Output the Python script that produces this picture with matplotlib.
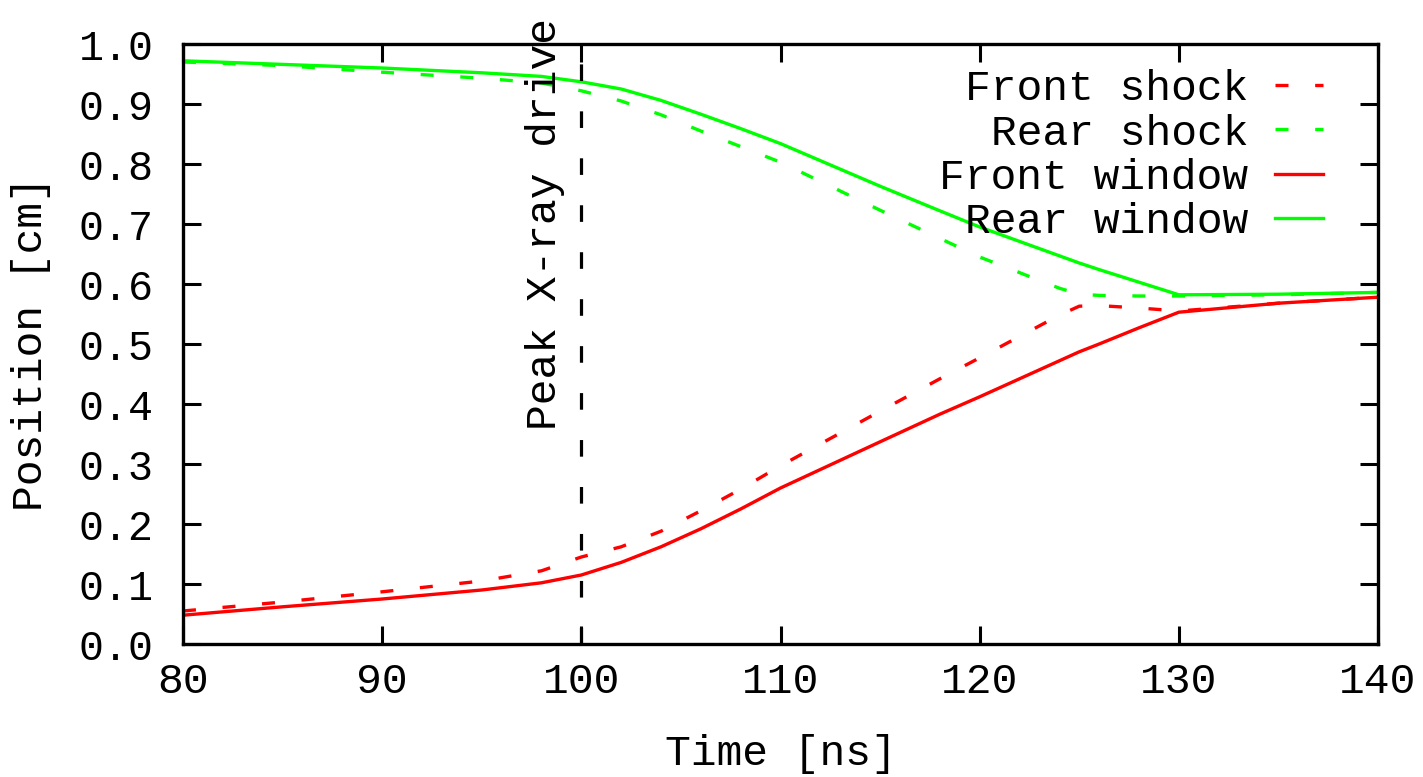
import matplotlib
matplotlib.use("Agg")
import matplotlib.pyplot as plt

# ---- data ----
time_ns = [80, 85, 90, 95, 98, 100, 102, 104, 106, 108, 110, 115, 118, 120, 124, 125, 126, 128, 130, 135, 140]
front_shock = [0.055, 0.070, 0.087, 0.105, 0.122, 0.145, 0.162, 0.188, 0.222, 0.258, 0.297, 0.388, 0.442, 0.477,
               0.548, 0.563, 0.564, 0.560, 0.555, 0.568, 0.578]
rear_shock = [0.970, 0.964, 0.953, 0.943, 0.935, 0.922, 0.905, 0.882, 0.855, 0.829, 0.803, 0.723, 0.676, 0.645,
              0.593, 0.583, 0.581, 0.580, 0.580, 0.582, 0.586]
front_window = [0.048, 0.062, 0.075, 0.090, 0.102, 0.115, 0.136, 0.162, 0.192, 0.225, 0.260, 0.337, 0.383, 0.412,
                0.472, 0.487, 0.500, 0.527, 0.553, 0.568, 0.578]
rear_window = [0.972, 0.966, 0.960, 0.952, 0.946, 0.937, 0.925, 0.906, 0.883, 0.859, 0.834, 0.763, 0.722, 0.695,
               0.647, 0.635, 0.624, 0.603, 0.582, 0.583, 0.586]
peak_time = 100
peak_label = "Peak X-ray drive"
x_ticks = [80, 90, 100, 110, 120, 130, 140]
y_ticks = [0.0, 0.1, 0.2, 0.3, 0.4, 0.5, 0.6, 0.7, 0.8, 0.9, 1.0]

RED = "#ff0000"
GREEN = "#00ff00"
FS = 31

plt.rcParams["font.family"] = ["Liberation Mono", "DejaVu Sans Mono"]
plt.rcParams["lines.scale_dashes"] = True

fig = plt.figure(figsize=(14.23, 7.77), dpi=100)
ax = fig.add_axes([183 / 1423, (777 - 644) / 777, 1195 / 1423, 600 / 777])

lw = 2.4
dash = (3.9, 8.0)
ax.plot(time_ns, front_shock, color=RED, lw=lw, dashes=dash, label="Front shock")
ax.plot(time_ns, rear_shock, color=GREEN, lw=lw, dashes=dash, label="Rear shock")
ax.plot(time_ns, front_window, color=RED, lw=lw, label="Front window")
ax.plot(time_ns, rear_window, color=GREEN, lw=lw, label="Rear window")

ax.plot([peak_time, peak_time], [0, 1], color="black", lw=2.3, dashes=(5.2, 9.5))
ax.text(98.18, 0.357, peak_label, rotation=90, ha="center", va="bottom",
        fontsize=FS, clip_on=False)

ax.set_xlim(80, 140)
ax.set_ylim(0, 1)
ax.set_xticks(x_ticks)
ax.set_yticks(y_ticks)
ax.set_xticklabels([str(v) for v in x_ticks])
ax.set_yticklabels([f"{v:.1f}" for v in y_ticks])
ax.tick_params(direction="in", length=13, width=2.2, top=True, right=True)
ax.tick_params(axis="y", pad=21, labelsize=30)
ax.tick_params(axis="x", pad=13, labelsize=FS)
for s in ax.spines.values():
    s.set_linewidth(2.4)

ax.set_xlabel("Time [ns]", fontsize=FS, labelpad=23)
ax.set_ylabel("Position [cm]", fontsize=FS, labelpad=20)

leg = ax.legend(loc="upper right", bbox_to_anchor=(0.954, 0.958), frameon=False,
                markerfirst=False, fontsize=FS, handlelength=1.12, handletextpad=0.62,
                labelspacing=0.1, borderpad=0, borderaxespad=0)
for t in leg.get_texts():
    t.set_ha("right")

fig.savefig("out.png", dpi=100)
